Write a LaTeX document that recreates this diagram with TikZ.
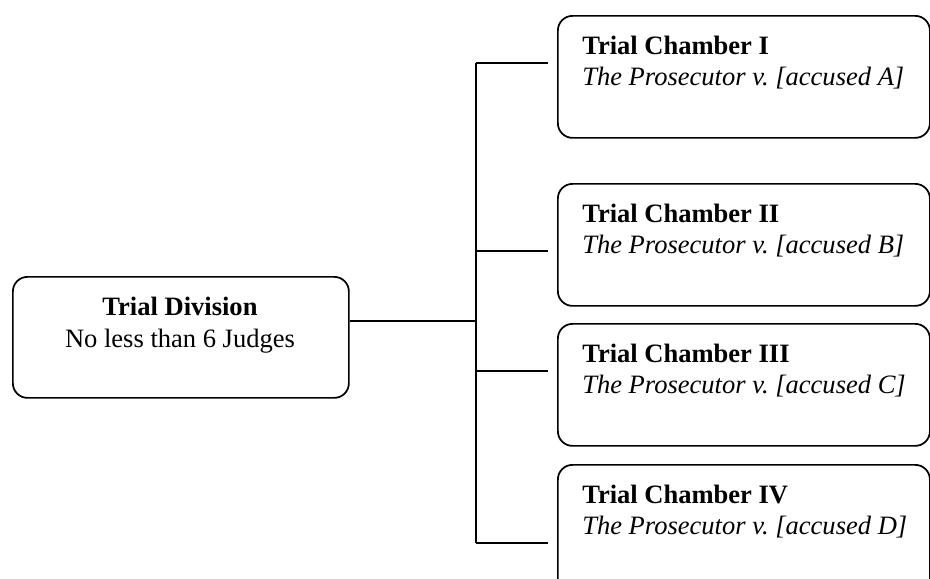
\documentclass[tikz,border=0pt]{standalone}
\usepackage{fontspec}
\setmainfont{Liberation Serif}
\frenchspacing
\begin{document}
\begin{tikzpicture}[x=0.75pt,y=-0.75pt,
  conn/.style={draw, line width=1.3pt},
  box/.style={draw, line width=1.3pt, rounded corners=11pt, inner sep=0pt, anchor=north west},
  chbox/.style={box, minimum width=279pt, minimum height=91.5pt},
  lbl/.style={font=\fontsize{19.9}{23}\selectfont, inner sep=0pt},
]
\useasboundingbox (0,0) rectangle (930,578);

% Trial Division
\node[box, minimum width=252pt, minimum height=90.75pt] (div) at (12,276) {};
\node[lbl, font=\fontsize{19.9}{23.5}\selectfont, align=center, anchor=base] (divt) at (180,347)
  {\textbf{Trial Division}\\No less than 6 Judges};

% Chambers
\node[chbox] (c1) at (557,15) {};
\node[chbox] (c2) at (557,183) {};
\node[chbox] (c3) at (557,323) {};
\node[chbox, minimum height=105pt] (c4) at (557,464) {};

\node[lbl, align=left, anchor=base west] (c1t) at (582,85)
  {\textbf{Trial Chamber I}\\\textit{The Prosecutor v. [accused A]}};
\node[lbl, align=left, anchor=base west] (c2t) at (582,253)
  {\textbf{Trial Chamber II}\\\textit{The Prosecutor v. [accused B]}};
\node[lbl, align=left, anchor=base west] (c3t) at (582,393)
  {\textbf{Trial Chamber III}\\\textit{The Prosecutor v. [accused C]}};
\node[lbl, align=left, anchor=base west] (c4t) at (582,534)
  {\textbf{Trial Chamber IV}\\\textit{The Prosecutor v. [accused D]}};

% bus
\coordinate (j) at (476,321);
\coordinate (b1) at (476,63);
\coordinate (b2) at (476,251);
\coordinate (b3) at (476,371);
\coordinate (b4) at (476,543);

\draw[conn] (div.east |- j) -- (j);
\draw[conn] (b1) -- (b4);
\draw[conn, shorten >=6.75pt] (b1) -- (b1 -| c1.west);
\draw[conn, shorten >=6.75pt] (b2) -- (b2 -| c2.west);
\draw[conn, shorten >=6.75pt] (b3) -- (b3 -| c3.west);
\draw[conn, shorten >=6.75pt] (b4) -- (b4 -| c4.west);
\end{tikzpicture}
\end{document}
